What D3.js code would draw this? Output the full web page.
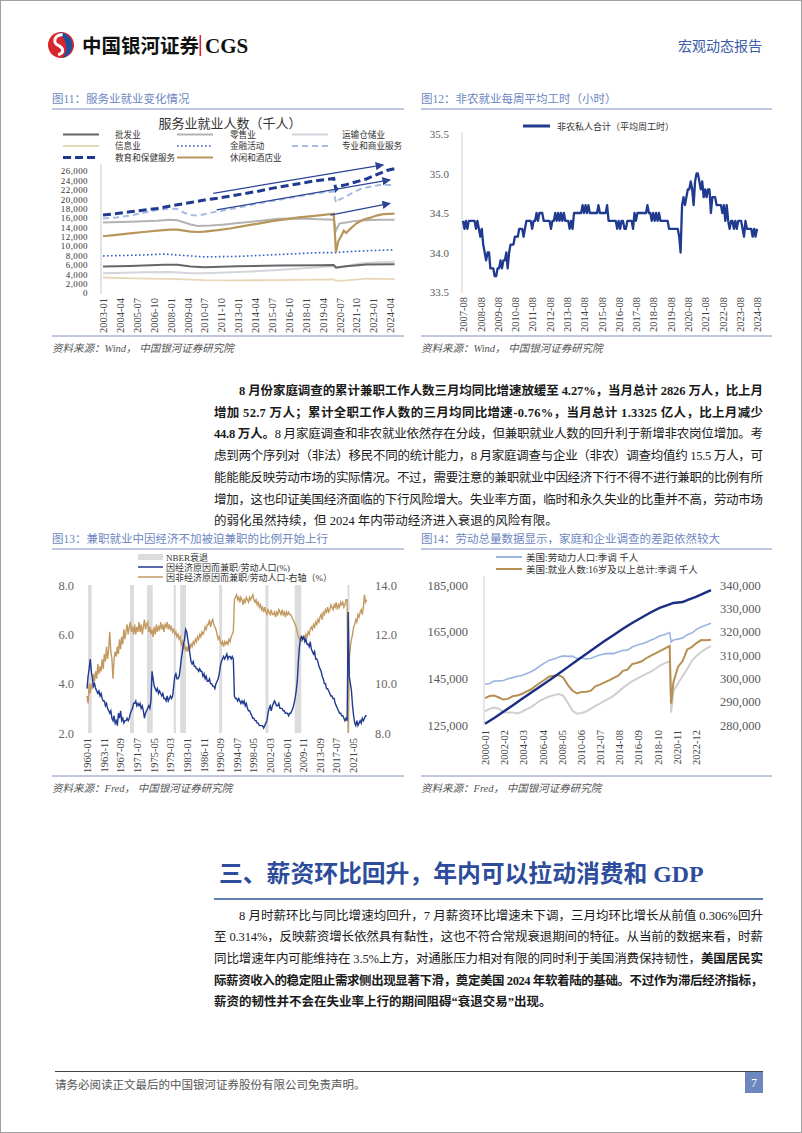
<!DOCTYPE html>
<html>
<head>
<meta charset="utf-8">
<script src="https://cdn.jsdelivr.net/npm/d3@7"></script>
<style>
body { margin: 0; background: #fff; }
svg { display: block; }
text { font-family: "Liberation Serif", "Noto Sans CJK SC", serif; }
</style>
</head>
<body>
<script>
// ---------- data ----------
// fig 11: services employment (thousands), [month, value]
const wholesale = [['2003-01',5650],['2005-01',5750],['2007-07',6000],['2008-07',6000],['2009-07',5650],['2010-07',5500],['2013-01',5700],['2016-01',5850],['2019-01',5900],['2020-02',5950],['2020-04',5450],['2021-01',5700],['2022-07',6050],['2024-08',6150]];
const retail = [['2003-01',15000],['2005-01',15200],['2007-01',15400],['2008-01',15600],['2008-07',15500],['2009-07',14600],['2010-01',14300],['2011-01',14400],['2012-01',14600],['2013-01',14900],['2014-01',15200],['2015-01',15500],['2016-01',15800],['2017-01',15900],['2018-01',15800],['2019-01',15700],['2020-02',15600],['2020-04',13300],['2020-07',14800],['2021-01',15000],['2021-07',15300],['2022-07',15500],['2023-07',15600],['2024-08',15600]];
const transport = [['2003-01',4200],['2006-01',4400],['2008-01',4500],['2009-07',4200],['2010-07',4200],['2013-01',4450],['2016-01',4900],['2019-01',5500],['2020-02',5750],['2020-04',5300],['2021-01',5700],['2022-01',6300],['2023-01',6500],['2024-08',6650]];
const information = [['2003-01',3300],['2006-01',3050],['2008-01',3000],['2010-07',2750],['2013-01',2700],['2016-01',2750],['2019-01',2850],['2020-02',2900],['2020-04',2600],['2021-01',2700],['2022-07',3050],['2024-08',2950]];
const financial = [['2003-01',7900],['2006-01',8100],['2007-07',8300],['2009-01',8000],['2010-07',7700],['2013-01',7800],['2016-01',8200],['2019-01',8600],['2020-04',8600],['2021-01',8800],['2022-07',9000],['2024-08',9200]];
const professional = [['2003-01',15900],['2004-01',16100],['2005-01',16500],['2006-01',17100],['2007-01',17700],['2008-01',18000],['2008-07',17900],['2009-01',17100],['2009-07',16600],['2010-01',16500],['2010-07',16800],['2011-07',17400],['2012-07',17900],['2013-07',18500],['2014-07',19100],['2015-07',19600],['2016-07',20100],['2017-07',20600],['2018-07',21100],['2019-07',21500],['2020-02',21600],['2020-04',19200],['2020-07',19900],['2021-01',20600],['2021-07',21400],['2022-01',22100],['2022-07',22500],['2023-01',22800],['2023-07',23000],['2024-01',23000],['2024-08',23000]];
const eduHealth = [['2003-01',16600],['2005-01',17300],['2007-01',18000],['2008-07',18800],['2009-07',19300],['2010-07',19800],['2011-07',20200],['2012-07',20700],['2013-07',21200],['2014-07',21700],['2015-07',22300],['2016-07',22800],['2017-07',23300],['2018-07',23800],['2019-07',24200],['2020-02',24400],['2020-04',22000],['2020-07',22800],['2021-01',23100],['2021-07',23500],['2022-01',23900],['2022-07',24300],['2023-01',24900],['2023-07',25500],['2024-01',26100],['2024-08',26500]];
const leisure = [['2003-01',12100],['2004-01',12400],['2005-01',12700],['2006-01',13000],['2007-01',13300],['2008-01',13500],['2008-07',13500],['2009-07',13100],['2010-01',13000],['2010-07',13100],['2011-07',13400],['2012-07',13800],['2013-07',14300],['2014-07',14800],['2015-07',15300],['2016-07',15700],['2017-07',16100],['2018-07',16400],['2019-07',16700],['2020-02',16900],['2020-04',8700],['2020-06',11000],['2020-09',12300],['2020-11',13300],['2021-01',12800],['2021-04',13500],['2021-10',14800],['2022-04',15600],['2022-10',16000],['2023-04',16500],['2023-10',16800],['2024-08',16900]];
const trendArrows = [[['2011-03',21250],['2023-10',27300]],[['2011-06',17700],['2024-04',24100]],[['2019-11',16600],['2024-04',19100]]];
const ticks11y = [0,2000,4000,6000,8000,10000,12000,14000,16000,18000,20000,22000,24000,26000];
const ticks11x = ['2003-01','2004-04','2005-07','2006-10','2008-01','2009-04','2010-07','2011-10','2013-01','2014-04','2015-07','2016-10','2018-01','2019-04','2020-07','2021-10','2023-01','2024-04'];

// fig 12: average weekly hours, monthly from 2007-08
const hoursStart = '2007-08';
const hours = [
  34.4,34.3,34.4,34.3,34.4,
  34.4,34.4,34.4,34.4,34.3,34.4,34.3,34.2,34.3,34.1,34.0,33.9,
  34.0,34.0,33.8,33.8,33.8,33.7,33.7,33.8,33.8,33.9,33.8,33.9,
  33.9,34.0,33.8,34.0,34.1,34.1,34.1,34.2,34.2,34.2,34.3,34.3,
  34.3,34.2,34.3,34.4,34.4,34.4,34.4,34.3,34.4,34.4,34.5,34.4,
  34.5,34.5,34.5,34.4,34.4,34.4,34.4,34.4,34.3,34.4,34.4,34.5,
  34.4,34.5,34.4,34.5,34.4,34.5,34.4,34.4,34.4,34.3,34.4,34.3,
  34.5,34.5,34.5,34.5,34.5,34.5,34.6,34.5,34.6,34.5,34.6,34.5,
  34.5,34.5,34.5,34.5,34.5,34.6,34.5,34.5,34.5,34.5,34.5,34.6,
  34.4,34.4,34.4,34.4,34.4,34.4,34.3,34.4,34.3,34.4,34.4,34.3,
  34.3,34.4,34.4,34.4,34.4,34.3,34.5,34.4,34.5,34.5,34.5,34.5,
  34.5,34.5,34.5,34.6,34.5,34.5,34.4,34.5,34.4,34.5,34.4,34.5,
  34.4,34.4,34.4,34.4,34.4,34.4,34.3,34.3,34.3,34.3,34.3,34.3,
  34.3,34.2,34.0,34.6,34.7,34.6,34.7,34.8,34.8,34.9,34.8,34.6,
  34.9,35.0,35.0,34.9,34.8,34.9,34.7,34.8,34.7,34.8,34.8,34.5,
  34.7,34.7,34.7,34.6,34.6,34.6,34.6,34.5,34.6,34.4,34.6,34.4,
  34.3,34.4,34.4,34.3,34.4,34.3,34.4,34.4,34.4,34.3,34.2,34.4,
  34.3,34.3,34.3,34.3,34.2,34.3,34.2,34.3
];
const ticks12y = [33.5,34.0,34.5,35.0,35.5];
const ticks12x = ['2007-08','2008-08','2009-08','2010-08','2011-08','2012-08','2013-08','2014-08','2015-08','2016-08','2017-08','2018-08','2019-08','2020-08','2021-08','2022-08','2023-08','2024-08'];

// fig 13: part-time shares (%), quarterly from 1960-01
const partStart = '1960-01';
const economicPT = [
  3.8,4.3,4.6,5.0, 4.5,4.2,3.9,4.0, 3.8,3.7,3.6,3.7, 3.5,3.6,3.4,3.3, 3.3,3.1,3.2,3.0,
  2.9,2.8,2.9,2.6, 2.5,2.7,2.4,2.5, 2.3,2.8,2.6,2.9, 2.5,2.6,2.4,2.5, 2.5,2.6,2.5,2.6,
  2.8,2.9,3.0,3.2, 3.2,3.3,3.1,3.2, 3.1,3.2,3.0,3.1, 2.9,2.6,2.8,2.9, 3.0,3.1,3.0,3.3,
  4.5,4.2,3.9,3.8, 3.7,3.8,3.6,3.7, 3.6,3.5,3.6,3.4, 3.4,3.3,3.5,3.3, 3.4,3.5,3.4,3.5,
  3.9,4.3,4.4,4.2, 4.2,4.3,4.6,5.0, 5.3,5.6,5.8,6.2, 6.1,5.8,5.5,5.2, 4.9,4.8,4.9,4.7,
  4.7,4.6,4.6,4.5, 4.6,4.5,4.5,4.3, 4.4,4.2,4.3,4.1, 4.1,4.2,4.0,4.0, 3.9,3.9,3.8,4.0,
  4.1,4.2,4.4,4.7, 4.9,5.0,5.1,5.0, 5.1,5.2,5.0,5.1, 5.1,5.0,5.1,5.0, 3.5,3.4,3.4,3.3,
  3.4,3.3,3.2,3.3, 3.2,3.3,3.1,3.2, 3.0,2.9,2.9,2.8, 2.7,2.6,2.6,2.5, 2.5,2.4,2.4,2.3,
  2.3,2.3,2.3,2.2, 2.3,2.4,2.5,2.8, 3.0,3.1,2.9,3.1, 3.2,3.3,3.2,3.1, 3.1,3.2,3.0,3.0,
  3.0,2.9,2.9,2.8, 2.8,2.8,2.7,2.8, 2.8,2.9,3.0,3.2, 3.4,3.7,4.1,4.9, 5.5,5.8,5.9,5.8,
  5.9,5.7,5.8,5.6, 5.6,5.5,5.7,5.4, 5.3,5.2,5.3,5.0, 5.0,4.9,4.7,4.6, 4.5,4.3,4.2,4.0,
  4.0,3.8,3.8,3.7, 3.6,3.5,3.5,3.4, 3.4,3.2,3.1,3.0, 2.9,2.8,2.8,2.7, 2.7,2.6,2.5,2.6,
  2.5,6.9,4.3,4.0, 3.7,3.1,2.7,2.4, 2.3,2.5,2.3,2.4, 2.5,2.4,2.6,2.5, 2.6,2.7,2.7
];
const nonEconomicPT = [
  9.5,9.2,10.0,9.6, 10.0,9.8,10.4,10.1, 10.5,10.2,10.8,10.4, 10.7,10.5,11.0,10.6, 11.2,10.9,11.5,11.0,
  11.4,12.1,11.3,11.0, 10.2,11.0,11.3,11.1, 11.5,11.2,11.8,11.4, 11.9,11.6,12.2,11.8, 12.1,12.4,12.0,12.3,
  12.5,12.1,12.3,12.0, 12.4,12.0,12.3,12.1, 12.5,12.1,12.4,12.0, 12.3,12.6,12.2,12.4, 12.5,12.1,12.3,12.0,
  12.2,11.9,12.3,12.0, 12.4,12.1,12.3,12.2, 12.5,12.2,12.4,12.1, 12.4,12.3,12.5,12.2, 12.4,12.2,12.3,12.1,
  12.2,12.0,12.1,11.9, 12.0,11.8,11.9,11.6, 11.7,11.4,11.6,11.3, 11.5,11.3,11.6,11.4, 11.6,11.5,11.7,11.6,
  11.8,11.7,11.9,11.8, 12.0,11.9,12.1,12.0, 12.1,12.3,12.2,12.4, 12.4,12.6,12.3,12.5, 12.6,12.4,12.3,12.2,
  12.0,11.8,11.9,11.7, 11.6,11.7,11.5,11.7, 11.6,11.7,11.6,11.8, 11.7,11.9,12.0,12.1, 13.4,13.5,13.6,13.4,
  13.5,13.3,13.5,13.4, 13.2,13.4,13.3,13.5, 13.4,13.3,13.5,13.4, 13.5,13.6,13.4,13.3, 13.4,13.2,13.3,13.1,
  13.2,13.0,13.1,12.9, 13.1,12.9,12.8,13.0, 12.9,12.8,13.0,12.8, 12.8,12.9,12.7,12.9, 12.8,13.0,12.9,12.8,
  13.0,12.8,12.9,12.7, 12.9,12.8,12.9,12.8, 12.8,12.7,12.6,12.5, 12.4,12.3,12.1,11.9, 11.8,11.9,11.7,11.9,
  11.9,11.8,12.0,11.9, 12.1,12.0,12.2,12.3, 12.2,12.4,12.3,12.5, 12.4,12.6,12.5,12.7, 12.8,12.6,12.9,12.8,
  13.0,12.9,13.1,12.9, 13.0,13.2,13.1,13.0, 13.2,13.1,13.3,13.0, 13.2,13.1,13.3,13.2, 13.3,13.1,13.2,13.4,
  13.4,8.0,11.0,11.5, 11.8,12.0,12.3,12.4, 12.6,12.5,12.8,12.7, 12.9,13.0,12.8,13.1, 13.6,13.3,13.4
];
const recessions = [['1960-04','1961-02'],['1969-12','1970-11'],['1973-11','1975-03'],['1980-01','1980-07'],['1981-07','1982-11'],['1990-07','1991-03'],['2001-03','2001-11'],['2007-12','2009-06'],['2020-02','2020-04']];
const ticks13yL = [2,4,6,8];
const ticks13yR = [8,10,12,14];
const ticks13x = ['1960-01','1963-11','1967-09','1971-07','1975-05','1979-03','1983-01','1986-11','1990-09','1994-07','1998-05','2002-03','2006-01','2009-11','2013-09','2017-07','2021-05'];

// fig 14: labour totals (thousands)
const dates14 = ['2000-01','2000-07','2001-01','2001-07','2002-01','2002-07','2003-01','2003-07','2004-01','2004-07','2005-01','2005-07','2006-01','2006-07','2007-01','2007-07','2008-01','2008-07','2009-01','2009-07','2010-01','2010-07','2011-01','2011-07','2012-01','2012-07','2013-01','2013-07','2014-01','2014-07','2015-01','2015-07','2016-01','2016-07','2017-01','2017-07','2018-01','2018-07','2019-01','2019-07','2020-02','2020-04','2020-07','2021-01','2021-07','2022-01','2022-07','2023-01','2023-07','2024-01','2024-08'];
const labourForce = [142500,142800,143800,143900,144100,144800,145300,145900,146200,147000,147800,148900,150400,151600,152800,153300,154000,154600,154400,154500,153500,153700,153300,153500,154400,155000,155500,155700,155600,156300,157000,157100,158400,159200,159700,160400,161300,162100,163200,163700,164600,160600,161400,161800,162300,163700,164400,166000,167000,167700,168600];
const employed = [136500,137400,137600,136800,135900,136200,137300,137600,138300,139300,140200,141700,143100,144400,145800,146100,146400,145400,142200,139800,138500,139100,139300,139600,141600,142300,143300,144100,145200,146100,148200,148700,151100,151600,152200,153500,154600,155600,156700,157600,158900,134200,143500,150000,152400,157400,158400,160100,161400,161300,161500];
const payrolls = [130800,131900,132500,132000,130500,130400,130400,129900,130600,131700,132700,134000,135500,136400,137200,137800,138300,137600,134600,131200,129800,130100,130800,131900,133200,134200,135300,136400,137600,139200,140900,142400,143700,144800,145800,146800,147800,149000,150400,151400,152300,130400,139600,142800,146000,149000,152500,154600,156200,157600,158800];
const popDates = ['2000-01','2001-01','2002-01','2003-01','2004-01','2005-01','2006-01','2007-01','2008-01','2009-01','2010-01','2011-01','2012-01','2013-01','2014-01','2015-01','2016-01','2017-01','2018-01','2019-01','2020-01','2020-07','2021-01','2021-07','2022-01','2023-01','2024-08'];
const population = [280500,283000,285700,288400,291100,293800,296500,299200,302000,304800,307600,310400,313200,316000,318600,321200,323700,326000,328200,330200,331600,332300,332500,332700,333500,335000,337800];
const ticks14yL = [125000,145000,165000,185000];
const ticks14yR = [280000,290000,300000,310000,320000,330000,340000];
const ticks14x = ['2000-01','2002-02','2004-03','2006-04','2008-05','2010-06','2012-07','2014-08','2016-09','2018-10','2020-11','2022-12'];

// body text: [text, bold]
const para1 = [
  [['8 月份家庭调查的累计兼职工作人数三月均同比增速放缓至 4.27%，当月总计 2826 万人，比上月', 1]],
  [['增加 52.7 万人；累计全职工作人数的三月均同比增速-0.76%，当月总计 1.3325 亿人，比上月减少', 1]],
  [['44.8 万人。', 1], ['8 月家庭调查和非农就业依然存在分歧，但兼职就业人数的回升利于新增非农岗位增加。考', 0]],
  [['虑到两个序列对（非法）移民不同的统计能力，8 月家庭调查与企业（非农）调查均值约 15.5 万人，可', 0]],
  [['能能能反映劳动市场的实际情况。不过，需要注意的兼职就业中因经济下行不得不进行兼职的比例有所', 0]],
  [['增加，这也印证美国经济面临的下行风险增大。失业率方面，临时和永久失业的比重并不高，劳动市场', 0]],
  [['的弱化虽然持续，但 2024 年内带动经济进入衰退的风险有限。', 0]]
];
const para2 = [
  [['8 月时薪环比与同比增速均回升，7 月薪资环比增速未下调，三月均环比增长从前值 0.306%回升', 0]],
  [['至 0.314%，反映薪资增长依然具有黏性，这也不符合常规衰退期间的特征。从当前的数据来看，时薪', 0]],
  [['同比增速年内可能维持在 3.5%上方，对通胀压力相对有限的同时利于美国消费保持韧性，', 0], ['美国居民实', 1]],
  [['际薪资收入的稳定阻止需求侧出现显著下滑，奠定美国 2024 年软着陆的基础。不过作为滞后经济指标，', 1]],
  [['薪资的韧性并不会在失业率上行的期间阻碍“衰退交易”出现。', 1]]
];

// ---------- page ----------
const parse = d3.timeParse('%Y-%m');
const NAVY = '#1f3a8f';
const TAN = '#b8955a';
const TITLE = '#6d86c2';
const RULE = '#7e90c0';

const svg = d3.select('body').append('svg')
    .attr('width', 802)
    .attr('height', 1133);

svg.append('rect')
    .attr('x', 0.5).attr('y', 0.5)
    .attr('width', 801).attr('height', 1132)
    .attr('fill', '#fff')
    .attr('stroke', '#a0a0a0');

const defs = svg.append('defs');
defs.append('marker')
    .attr('id', 'arrowhead')
    .attr('viewBox', '0 0 10 10')
    .attr('refX', 9).attr('refY', 5)
    .attr('markerWidth', 7).attr('markerHeight', 7)
    .attr('orient', 'auto')
    .append('path')
    .attr('d', 'M0,0 L10,5 L0,10 z')
    .attr('fill', '#2a4594');

// header
const logo = svg.append('g').attr('transform', 'translate(61,45) rotate(-20)');
logo.append('circle').attr('r', 13).attr('fill', '#d7262e');
logo.append('path')
    .attr('d', 'M 2 -12.8 A 13 13 0 0 1 -3 12.6 C 6 8 7 -4 2 -12.8 Z')
    .attr('fill', '#1d4f9c');
logo.append('path')
    .attr('d', 'M 5 -9 C -1 -12 -8 -6 -3 -1 C 2 4 0 9 -6 8')
    .attr('fill', 'none')
    .attr('stroke', '#fff')
    .attr('stroke-width', 3);

svg.append('text')
    .attr('x', 82).attr('y', 52.5)
    .attr('font-family', 'Noto Sans CJK SC')
    .attr('font-size', 19.5)
    .attr('font-weight', 'bold')
    .attr('fill', '#111')
    .text('中国银河证券');
svg.append('rect')
    .attr('x', 199.5).attr('y', 35)
    .attr('width', 1.6).attr('height', 21)
    .attr('fill', '#d7262e');
svg.append('text')
    .attr('x', 205).attr('y', 53)
    .attr('font-family', 'Liberation Sans')
    .attr('font-size', 21)
    .attr('font-weight', 'bold')
    .attr('fill', '#111')
    .text('CGS');
svg.append('text')
    .attr('x', 762).attr('y', 50.5)
    .attr('text-anchor', 'end')
    .attr('font-size', 14)
    .attr('fill', '#3b5ca6')
    .text('宏观动态报告');

function figureFrame(x0, x1, titleY, ruleY, title) {
    svg.append('text')
        .attr('x', x0).attr('y', titleY + 4)
        .attr('font-size', 11.5)
        .attr('fill', TITLE)
        .text(title);
    svg.append('line')
        .attr('x1', x0).attr('x2', x1)
        .attr('y1', titleY + 10).attr('y2', titleY + 10)
        .attr('stroke', RULE).attr('stroke-width', 1);
    svg.append('line')
        .attr('x1', x0).attr('x2', x1)
        .attr('y1', ruleY).attr('y2', ruleY)
        .attr('stroke', RULE).attr('stroke-width', 1);
    svg.append('text')
        .attr('x', x0).attr('y', ruleY + 16)
        .attr('font-size', 10.5)
        .attr('font-style', 'italic')
        .attr('fill', '#555')
        .text(ruleY < 500 ? '资料来源：Wind，  中国银河证券研究院' : '资料来源：Fred，  中国银河证券研究院');
}

function styleRotated(g, fs) {
    g.attr('font-family', null).attr('font-size', null);
    g.select('.domain').remove();
    g.selectAll('.tick line').remove();
    g.selectAll('.tick text')
        .attr('transform', 'rotate(-90)')
        .attr('x', -5).attr('y', 0).attr('dy', '0.35em')
        .style('text-anchor', 'end')
        .attr('font-size', fs)
        .attr('fill', '#404040');
}

function styleValueAxis(g, fs, fam, col) {
    g.attr('font-family', null).attr('font-size', null);
    g.select('.domain').remove();
    g.selectAll('.tick line').remove();
    g.selectAll('.tick text')
        .attr('font-size', fs)
        .attr('font-family', fam)
        .attr('fill', col);
}

// ---------- fig 11 ----------
figureFrame(52, 404, 99, 336, '图11：服务业就业变化情况');

const x11 = d3.scaleTime().domain([parse('2003-01'), parse('2024-08')]).range([103, 394.5]);
const y11 = d3.scaleLinear().domain([0, 26000]).range([293, 171]);

svg.append('text')
    .attr('x', 230).attr('y', 127.5)
    .attr('text-anchor', 'middle')
    .attr('font-size', 13)
    .attr('fill', '#333')
    .text('服务业就业人数（千人）');

svg.append('line')
    .attr('x1', 101).attr('x2', 101).attr('y1', 164).attr('y2', 294)
    .attr('stroke', '#c8c8c8');

svg.append('g')
    .attr('transform', 'translate(101,0)')
    .call(d3.axisLeft(y11).tickValues(ticks11y).tickSize(0).tickPadding(13).tickFormat(d3.format(',')))
    .call(g => styleValueAxis(g, 9, 'Liberation Serif', '#333'))
    .call(g => g.selectAll('.tick text').attr('letter-spacing', 0.4));

svg.append('g')
    .attr('transform', 'translate(0,293)')
    .call(d3.axisBottom(x11).tickValues(ticks11x.map(parse)).tickFormat(d3.timeFormat('%Y-%m')))
    .call(g => styleRotated(g, 10.5));

const services = [
    { name: '批发业', data: wholesale, color: '#666666', width: 2, dash: null, col: 0, row: 0 },
    { name: '零售业', data: retail, color: '#b3b3b3', width: 2, dash: null, col: 1, row: 0 },
    { name: '运输仓储业', data: transport, color: '#d4d4dc', width: 2, dash: null, col: 2, row: 0 },
    { name: '信息业', data: information, color: '#e8d7b6', width: 1.8, dash: null, col: 0, row: 1 },
    { name: '金融活动', data: financial, color: '#2e5fc2', width: 1.6, dash: '1.6,2.4', col: 1, row: 1 },
    { name: '专业和商业服务', data: professional, color: '#a6bbe3', width: 2, dash: '6,4', col: 2, row: 1 },
    { name: '教育和保健服务', data: eduHealth, color: NAVY, width: 3, dash: '8,4', col: 0, row: 2 },
    { name: '休闲和酒店业', data: leisure, color: TAN, width: 2.2, dash: null, col: 1, row: 2 }
];
const drawOrder11 = [3, 2, 0, 4, 1, 7, 5, 6];

const line11 = d3.line()
    .x(d => x11(parse(d[0])))
    .y(d => y11(d[1]));

svg.append('g')
    .selectAll('path')
    .data(drawOrder11.map(i => services[i]))
    .join('path')
    .attr('d', d => line11(d.data))
    .attr('fill', 'none')
    .attr('stroke', d => d.color)
    .attr('stroke-width', d => d.width)
    .attr('stroke-dasharray', d => d.dash);

svg.append('g')
    .selectAll('line')
    .data(trendArrows)
    .join('line')
    .attr('x1', d => x11(parse(d[0][0])))
    .attr('y1', d => y11(d[0][1]))
    .attr('x2', d => x11(parse(d[1][0])))
    .attr('y2', d => y11(d[1][1]))
    .attr('stroke', '#2a4594')
    .attr('stroke-width', 1.2)
    .attr('marker-end', 'url(#arrowhead)');

const legCols11 = [63, 177, 292];
const legText11 = [115, 230, 342];
const legRows11 = [134.5, 146, 157.5];
const leg11 = svg.append('g').selectAll('g')
    .data(services)
    .join('g');
leg11.append('line')
    .attr('x1', d => legCols11[d.col]).attr('x2', d => legCols11[d.col] + 36)
    .attr('y1', d => legRows11[d.row]).attr('y2', d => legRows11[d.row])
    .attr('stroke', d => d.color)
    .attr('stroke-width', d => d.width)
    .attr('stroke-dasharray', d => d.dash);
leg11.append('text')
    .attr('x', d => legText11[d.col])
    .attr('y', d => legRows11[d.row] + 3.2)
    .attr('font-size', 8.6)
    .attr('fill', '#333')
    .text(d => d.name);

// ---------- fig 12 ----------
figureFrame(421, 772, 99, 336, '图12：非农就业每周平均工时（小时）');

const x12 = d3.scaleTime().domain([parse('2007-08'), parse('2024-08')]).range([463, 757]);
const y12 = d3.scaleLinear().domain([33.5, 35.5]).range([292, 134]);
const hoursStartDate = parse(hoursStart);

svg.append('line')
    .attr('x1', 462).attr('x2', 462).attr('y1', 132).attr('y2', 293)
    .attr('stroke', '#d0d0d0');

svg.append('g')
    .attr('transform', 'translate(462,0)')
    .call(d3.axisLeft(y12).tickValues(ticks12y).tickSize(0).tickPadding(13).tickFormat(d3.format('.1f')))
    .call(g => styleValueAxis(g, 11, 'Liberation Sans', '#595959'));

svg.append('g')
    .attr('transform', 'translate(0,292)')
    .call(d3.axisBottom(x12).tickValues(ticks12x.map(parse)).tickFormat(d3.timeFormat('%Y-%m')))
    .call(g => styleRotated(g, 10.5));

svg.append('path')
    .datum(hours)
    .attr('d', d3.line()
        .x((d, i) => x12(d3.timeMonth.offset(hoursStartDate, i)))
        .y(d => y12(d)))
    .attr('fill', 'none')
    .attr('stroke', NAVY)
    .attr('stroke-width', 2.3)
    .attr('stroke-linejoin', 'round');

svg.append('line')
    .attr('x1', 523).attr('x2', 550).attr('y1', 126).attr('y2', 126)
    .attr('stroke', NAVY).attr('stroke-width', 3);
svg.append('text')
    .attr('x', 557).attr('y', 129.5)
    .attr('font-size', 9)
    .attr('fill', '#333')
    .text('非农私人合计（平均周工时）');

// ---------- fig 13 ----------
figureFrame(52, 404, 539, 776, '图13：兼职就业中因经济不加被迫兼职的比例开始上行');

const x13 = d3.scaleTime().domain([parse('1960-01'), parse('2024-08')]).range([87, 367]);
const y13L = d3.scaleLinear().domain([2, 8]).range([733, 585]);
const y13R = d3.scaleLinear().domain([8, 14]).range([733, 585]);
const partStartDate = parse(partStart);

svg.append('g')
    .selectAll('rect')
    .data(recessions)
    .join('rect')
    .attr('x', d => x13(parse(d[0])))
    .attr('width', d => Math.max(2, x13(parse(d[1])) - x13(parse(d[0]))))
    .attr('y', 585)
    .attr('height', 148)
    .attr('fill', '#dcdcdc');

svg.append('g')
    .attr('transform', 'translate(87,0)')
    .call(d3.axisLeft(y13L).tickValues(ticks13yL).tickSize(0).tickPadding(13).tickFormat(d3.format('.1f')))
    .call(g => styleValueAxis(g, 12.5, 'Liberation Serif', '#666'));

svg.append('g')
    .attr('transform', 'translate(367,0)')
    .call(d3.axisRight(y13R).tickValues(ticks13yR).tickSize(0).tickPadding(8).tickFormat(d3.format('.1f')))
    .call(g => styleValueAxis(g, 12.5, 'Liberation Serif', '#666'));

svg.append('g')
    .attr('transform', 'translate(0,733)')
    .call(d3.axisBottom(x13).tickValues(ticks13x.map(parse)).tickFormat(d3.timeFormat('%Y-%m')))
    .call(g => styleRotated(g, 10.5));

const qDate = i => d3.timeMonth.offset(partStartDate, 3 * i);

svg.append('path')
    .datum(nonEconomicPT)
    .attr('d', d3.line().x((d, i) => x13(qDate(i))).y(d => y13R(d)))
    .attr('fill', 'none')
    .attr('stroke', '#c29a62')
    .attr('stroke-width', 1.4);

svg.append('path')
    .datum(economicPT)
    .attr('d', d3.line().x((d, i) => x13(qDate(i))).y(d => y13L(d)))
    .attr('fill', 'none')
    .attr('stroke', NAVY)
    .attr('stroke-width', 1.4);

svg.append('rect')
    .attr('x', 138).attr('y', 554).attr('width', 25).attr('height', 6)
    .attr('fill', '#dcdcdc');
svg.append('text')
    .attr('x', 166).attr('y', 560.5).attr('font-size', 9).attr('fill', '#333')
    .text('NBER衰退');
svg.append('line')
    .attr('x1', 138).attr('x2', 163).attr('y1', 567).attr('y2', 567)
    .attr('stroke', NAVY).attr('stroke-width', 1.5);
svg.append('text')
    .attr('x', 166).attr('y', 570.5).attr('font-size', 9).attr('fill', '#333')
    .text('因经济原因而兼职/劳动人口(%)');
svg.append('line')
    .attr('x1', 138).attr('x2', 163).attr('y1', 577).attr('y2', 577)
    .attr('stroke', '#c29a62').attr('stroke-width', 1.5);
svg.append('text')
    .attr('x', 166).attr('y', 580.5).attr('font-size', 9).attr('fill', '#333')
    .text('因非经济原因而兼职/劳动人口-右轴（%）');

// ---------- fig 14 ----------
figureFrame(421, 772, 539, 776, '图14：劳动总量数据显示，家庭和企业调查的差距依然较大');

const x14 = d3.scaleTime().domain([parse('2000-01'), parse('2024-08')]).range([485, 711]);
const y14L = d3.scaleLinear().domain([125000, 185000]).range([725, 585]);
const y14R = d3.scaleLinear().domain([280000, 340000]).range([725, 585]);

svg.append('line')
    .attr('x1', 484).attr('x2', 484).attr('y1', 576).attr('y2', 726)
    .attr('stroke', '#d0d0d0');

svg.append('g')
    .attr('transform', 'translate(484,0)')
    .call(d3.axisLeft(y14L).tickValues(ticks14yL).tickSize(0).tickPadding(16).tickFormat(d3.format(',')))
    .call(g => styleValueAxis(g, 12.5, 'Liberation Serif', '#595959'));

svg.append('g')
    .attr('transform', 'translate(712,0)')
    .call(d3.axisRight(y14R).tickValues(ticks14yR).tickSize(0).tickPadding(8).tickFormat(d3.format(',')))
    .call(g => styleValueAxis(g, 12.5, 'Liberation Serif', '#595959'));

svg.append('g')
    .attr('transform', 'translate(0,725)')
    .call(d3.axisBottom(x14).tickValues(ticks14x.map(parse)).tickFormat(d3.timeFormat('%Y-%m')))
    .call(g => styleRotated(g, 10.5));

const labour = [
    { data: payrolls, color: '#cfcfcf', width: 2 },
    { data: employed, color: '#b68f52', width: 2 },
    { data: labourForce, color: '#9db3e0', width: 1.6 }
];
const line14 = d3.line()
    .x((d, i) => x14(parse(dates14[i])))
    .y(d => y14L(d));

svg.append('g')
    .selectAll('path')
    .data(labour)
    .join('path')
    .attr('d', d => line14(d.data))
    .attr('fill', 'none')
    .attr('stroke', d => d.color)
    .attr('stroke-width', d => d.width);

svg.append('path')
    .datum(population)
    .attr('d', d3.line().x((d, i) => x14(parse(popDates[i]))).y(d => y14R(d)))
    .attr('fill', 'none')
    .attr('stroke', '#1b2c83')
    .attr('stroke-width', 2.4);

svg.append('line')
    .attr('x1', 496).attr('x2', 522).attr('y1', 557).attr('y2', 557)
    .attr('stroke', '#9db3e0').attr('stroke-width', 2);
svg.append('text')
    .attr('x', 526).attr('y', 560.5).attr('font-size', 9.5).attr('fill', '#333')
    .text('美国:劳动力人口:季调 千人');
svg.append('line')
    .attr('x1', 496).attr('x2', 522).attr('y1', 569).attr('y2', 569)
    .attr('stroke', '#b68f52').attr('stroke-width', 2);
svg.append('text')
    .attr('x', 526).attr('y', 572.5).attr('font-size', 9.5).attr('fill', '#333')
    .text('美国:就业人数:16岁及以上总计:季调 千人');

// ---------- body text ----------
function paragraph(lines, top, step) {
    lines.forEach((segs, i) => {
        const x0 = i === 0 ? 239 : 214;
        const t = svg.append('text')
            .attr('x', x0)
            .attr('y', top + i * step)
            .attr('font-size', 12.5)
            .attr('fill', '#1a1a1a');
        if (i < lines.length - 1) {
            t.attr('textLength', 763 - x0).attr('lengthAdjust', 'spacing');
        }
        t.selectAll('tspan')
            .data(segs)
            .join('tspan')
            .attr('font-weight', d => d[1] ? 'bold' : 'normal')
            .text(d => d[0]);
    });
}

paragraph(para1, 395, 21.7);

svg.append('text')
    .attr('x', 219).attr('y', 881.5)
    .attr('font-size', 23.8)
    .attr('font-weight', 'bold')
    .attr('fill', '#2d4c9b')
    .text('三、薪资环比回升，年内可以拉动消费和 GDP');
svg.append('line')
    .attr('x1', 214).attr('x2', 763).attr('y1', 899).attr('y2', 899)
    .attr('stroke', '#2f5597').attr('stroke-width', 1.5);

paragraph(para2, 919.5, 21.7);

// footer
svg.append('line')
    .attr('x1', 55).attr('x2', 763).attr('y1', 1071.5).attr('y2', 1071.5)
    .attr('stroke', '#444').attr('stroke-width', 1);
svg.append('text')
    .attr('x', 55).attr('y', 1089)
    .attr('font-size', 11.5)
    .attr('fill', '#555')
    .text('请务必阅读正文最后的中国银河证券股份有限公司免责声明。');
svg.append('rect')
    .attr('x', 745).attr('y', 1072).attr('width', 18).attr('height', 21)
    .attr('fill', '#6d87bf');
svg.append('text')
    .attr('x', 754).attr('y', 1087)
    .attr('text-anchor', 'middle')
    .attr('font-size', 12)
    .attr('fill', '#fff')
    .text('7');
</script>
</body>
</html>
